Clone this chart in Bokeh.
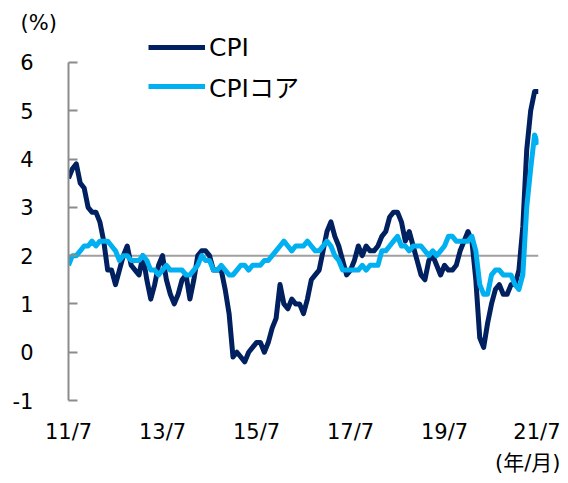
from bokeh.plotting import figure
from bokeh.models import Range1d, FixedTicker, Legend, LegendItem, Title
from bokeh.embed import file_html
from bokeh.resources import INLINE

# Monthly data, 2011/7 .. 2021/7 (YoY %)
cpi = [3.6, 3.8, 3.9, 3.5, 3.4, 3.0,
       2.9, 2.9, 2.7, 2.3, 1.7, 1.7, 1.4, 1.7, 2.0, 2.2, 1.8, 1.7,
       1.6, 2.0, 1.5, 1.1, 1.4, 1.8, 2.0, 1.5, 1.2, 1.0, 1.2, 1.5,
       1.6, 1.1, 1.5, 2.0, 2.1, 2.1, 2.0, 1.7, 1.7, 1.7, 1.3, 0.8,
       -0.1, 0.0, -0.1, -0.2, 0.0, 0.1, 0.2, 0.2, 0.0, 0.2, 0.5, 0.7,
       1.4, 1.0, 0.9, 1.1, 1.0, 1.0, 0.8, 1.1, 1.5, 1.6, 1.7, 2.1,
       2.5, 2.7, 2.4, 2.2, 1.9, 1.6, 1.7, 1.9, 2.2, 2.0, 2.2, 2.1,
       2.1, 2.2, 2.4, 2.5, 2.8, 2.9, 2.9, 2.7, 2.3, 2.5, 2.2, 1.9,
       1.6, 1.5, 1.9, 2.0, 1.8, 1.6, 1.8, 1.7, 1.7, 1.8, 2.1, 2.3,
       2.5, 2.3, 1.5, 0.3, 0.1, 0.6, 1.0, 1.3, 1.4, 1.2, 1.2, 1.4,
       1.4, 1.7, 2.6, 4.2, 5.0, 5.4, 5.4]

cpi_core = [1.8, 2.0, 2.0, 2.1, 2.2, 2.2,
            2.3, 2.2, 2.3, 2.3, 2.3, 2.2, 2.1, 1.9, 2.0, 2.0, 1.9, 1.9,
            1.9, 2.0, 1.9, 1.7, 1.7, 1.6, 1.7, 1.8, 1.7, 1.7, 1.7, 1.7,
            1.6, 1.6, 1.7, 1.8, 2.0, 1.9, 1.9, 1.7, 1.7, 1.8, 1.7, 1.6,
            1.6, 1.7, 1.8, 1.8, 1.7, 1.8, 1.8, 1.8, 1.9, 1.9, 2.0, 2.1,
            2.2, 2.3, 2.2, 2.1, 2.2, 2.2, 2.2, 2.3, 2.2, 2.1, 2.1, 2.2,
            2.3, 2.2, 2.0, 1.9, 1.7, 1.7, 1.7, 1.7, 1.7, 1.8, 1.7, 1.8,
            1.8, 1.8, 2.1, 2.1, 2.2, 2.3, 2.4, 2.2, 2.2, 2.1, 2.2, 2.2,
            2.2, 2.1, 2.0, 2.1, 2.0, 2.1, 2.2, 2.4, 2.4, 2.3, 2.3, 2.3,
            2.3, 2.4, 2.1, 1.4, 1.2, 1.2, 1.6, 1.7, 1.7, 1.6, 1.6, 1.6,
            1.4, 1.3, 1.6, 3.0, 3.8, 4.5, 4.3]

reference_level = 2
x_tick_months = [0, 24, 48, 72, 96, 120]
x_tick_labels = ["11/7", "13/7", "15/7", "17/7", "19/7", "21/7"]
y_ticks = [-1, 0, 1, 2, 3, 4, 5, 6]
y_tick_labels = ["-1", "0", "1", "2", "3", "4", "5", "6"]

months = list(range(len(cpi)))

FONT = "DejaVu Sans, Noto Sans CJK JP"

p = figure(frame_width=470, frame_height=367, output_backend="svg", toolbar_location=None,
           x_range=Range1d(0, 120), y_range=Range1d(-1, 6.6),
           min_border_left=68, min_border_right=22, min_border_top=33, min_border_bottom=82)
p.outline_line_color = None
p.grid.visible = False
p.title.visible = False

# y axis
p.yaxis.ticker = FixedTicker(ticks=y_ticks)
p.yaxis.major_label_overrides = {t: l for t, l in zip(y_ticks, y_tick_labels)}
p.yaxis.bounds = (-1, 6)
p.yaxis.axis_line_color = "#8c8c8c"
p.yaxis.axis_line_width = 2
p.yaxis.major_tick_line_color = "#8c8c8c"
p.yaxis.major_tick_line_width = 2
p.yaxis.major_tick_in = 9
p.yaxis.major_tick_out = 0
p.yaxis.minor_tick_line_color = None
p.yaxis.major_label_standoff = 35
p.yaxis.major_label_text_font = FONT
p.yaxis.major_label_text_font_size = "21px"
p.yaxis.major_label_text_color = "black"

# x axis
p.xaxis.ticker = FixedTicker(ticks=x_tick_months)
p.xaxis.major_label_overrides = {m: l for m, l in zip(x_tick_months, x_tick_labels)}
p.xaxis.axis_line_color = None
p.xaxis.major_tick_line_color = None
p.xaxis.minor_tick_line_color = None
p.xaxis.major_label_standoff = 13
p.xaxis.major_label_text_font = FONT
p.xaxis.major_label_text_font_size = "21px"
p.xaxis.major_label_text_color = "black"

p.line(months, [reference_level] * len(months), line_color="#a0a0a0", line_width=2)
r1 = p.line(months, cpi, line_color="#002060", line_width=5, line_join="round")
r2 = p.line(months, cpi_core, line_color="#00b0f0", line_width=5, line_join="round")

legend = Legend(items=[LegendItem(label="CPI", renderers=[r1]),
                       LegendItem(label="CPIコア", renderers=[r2])],
                location=(80, 296), orientation="vertical",
                glyph_width=57, glyph_height=36, label_height=36, spacing=3,
                label_standoff=4, padding=0, margin=0,
                border_line_color=None, background_fill_alpha=0,
                label_text_font=FONT, label_text_font_size="25px",
                label_text_color="black")
p.add_layout(legend, "center")

p.add_layout(Title(text="(%)", align="left", offset=-48, standoff=-3,
                   text_font=FONT, text_font_size="21px", text_font_style="normal",
                   text_color="black"), "above")
p.add_layout(Title(text="(年/月)", align="right", offset=-22, standoff=4,
                   text_font=FONT, text_font_size="21px", text_font_style="normal",
                   text_color="black"), "below")

open("out.html", "w").write(file_html(p, INLINE))
